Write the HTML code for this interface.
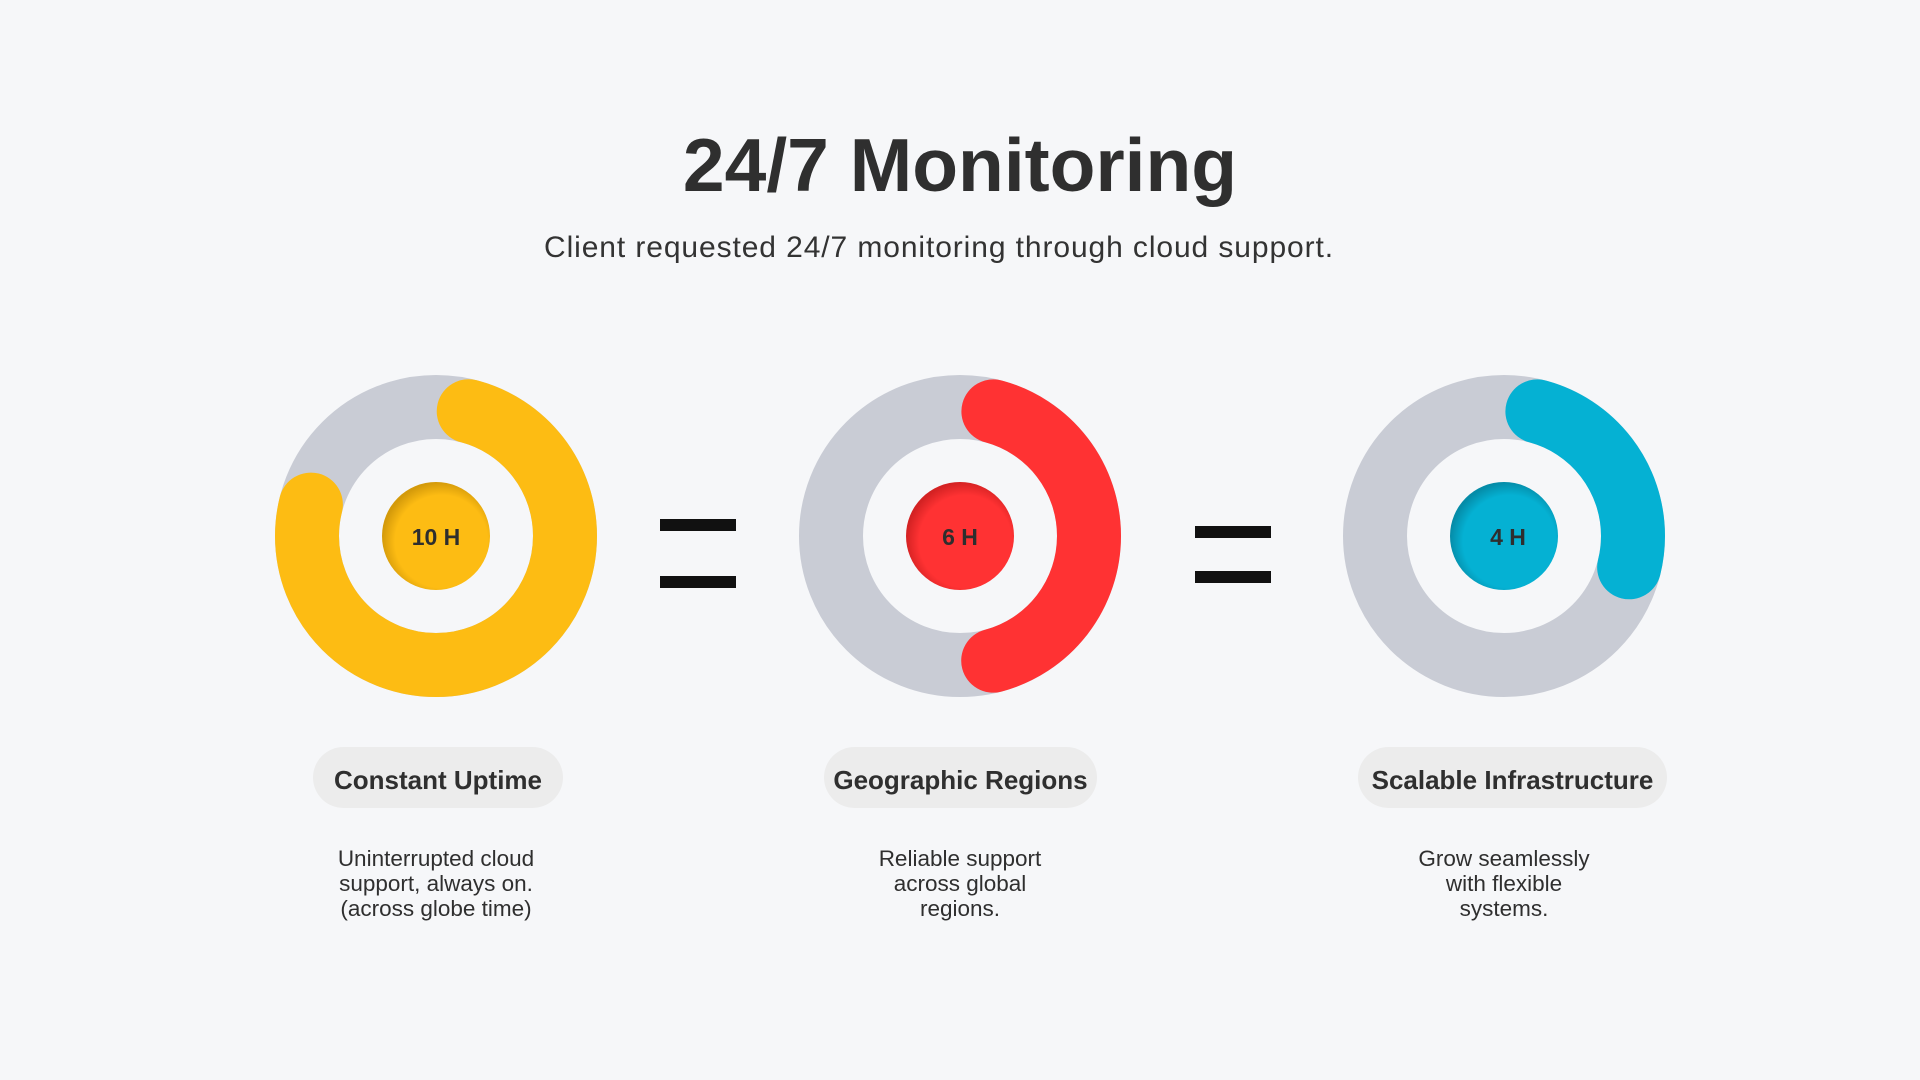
<!DOCTYPE html>
<html><head><meta charset="utf-8"><style>
html,body{margin:0;padding:0;background:#f6f7f9;}
body{width:1920px;height:1080px;position:relative;overflow:hidden;font-family:"Liberation Sans",sans-serif;color:#2e2e2e;}
.t{position:absolute;left:0;width:1920px;text-align:center;}
h1{position:absolute;left:0;width:1920px;text-align:center;margin:0;top:122px;font-size:75px;font-weight:bold;color:#2f2f2f;}
.sub{top:231px;left:-21px;font-size:30px;letter-spacing:0.9px;color:#333;}
.pill{position:absolute;top:747px;height:61px;border-radius:31px;background:#ececec;font-weight:bold;font-size:26px;line-height:66px;text-align:center;color:#2f2f2f;}
.desc{position:absolute;width:320px;text-align:center;font-size:22.5px;line-height:25px;top:846px;color:#2f2f2f;}
.eq{position:absolute;height:12px;background:#111;}
</style></head><body>
<h1>24/7 Monitoring</h1>
<div class="t sub">Client requested 24/7 monitoring through cloud support.</div>
<svg width="1920" height="1080" style="position:absolute;left:0;top:0">
<defs>
<radialGradient id="gy" cx="55%" cy="55%" r="55%"><stop offset="78%" stop-color="#fdbc13"/><stop offset="100%" stop-color="#d49a0a"/></radialGradient>
<radialGradient id="gr" cx="55%" cy="55%" r="55%"><stop offset="78%" stop-color="#ff3233"/><stop offset="100%" stop-color="#d42223"/></radialGradient>
<radialGradient id="gb" cx="55%" cy="55%" r="55%"><stop offset="78%" stop-color="#05b1d3"/><stop offset="100%" stop-color="#058ca8"/></radialGradient>
</defs>
<g fill="none" stroke-width="64">
<circle cx="436" cy="536" r="129" stroke="#c9ccd5"/>
<circle cx="436" cy="536" r="129" stroke="#fdbc13" stroke-linecap="round" stroke-dasharray="606.3 1000" stroke-dashoffset="-33.1" transform="rotate(-90 436 536)"/>
<circle cx="960" cy="536" r="129" stroke="#c9ccd5"/>
<circle cx="960" cy="536" r="129" stroke="#ff3233" stroke-linecap="round" stroke-dasharray="337.7 1000" stroke-dashoffset="-33.8" transform="rotate(-90 960 536)"/>
<circle cx="1504" cy="536" r="129" stroke="#c9ccd5"/>
<circle cx="1504" cy="536" r="129" stroke="#05b1d3" stroke-linecap="round" stroke-dasharray="200.4 1000" stroke-dashoffset="-33.8" transform="rotate(-90 1504 536)"/>
</g>
<circle cx="436" cy="536" r="54" fill="url(#gy)"/>
<circle cx="960" cy="536" r="54" fill="url(#gr)"/>
<circle cx="1504" cy="536" r="54" fill="url(#gb)"/>
<g font-family="Liberation Sans, sans-serif" font-weight="bold" font-size="23" fill="#2e2e2e" text-anchor="middle">
<text x="436" y="545">10 H</text>
<text x="960" y="545">6 H</text>
<text x="1508" y="545">4 H</text>
</g>
</svg>
<div class="eq" style="left:660px;top:519px;width:76px"></div>
<div class="eq" style="left:660px;top:576px;width:76px"></div>
<div class="eq" style="left:1195px;top:526px;width:76px"></div>
<div class="eq" style="left:1195px;top:571px;width:76px"></div>
<div class="pill" style="left:313px;width:250px">Constant Uptime</div>
<div class="pill" style="left:824px;width:273px">Geographic Regions</div>
<div class="pill" style="left:1358px;width:309px">Scalable Infrastructure</div>
<div class="desc" style="left:276px">Uninterrupted cloud<br>support, always on.<br>(across globe time)</div>
<div class="desc" style="left:800px">Reliable support<br>across global<br>regions.</div>
<div class="desc" style="left:1344px">Grow seamlessly<br>with flexible<br>systems.</div>
</body></html>
